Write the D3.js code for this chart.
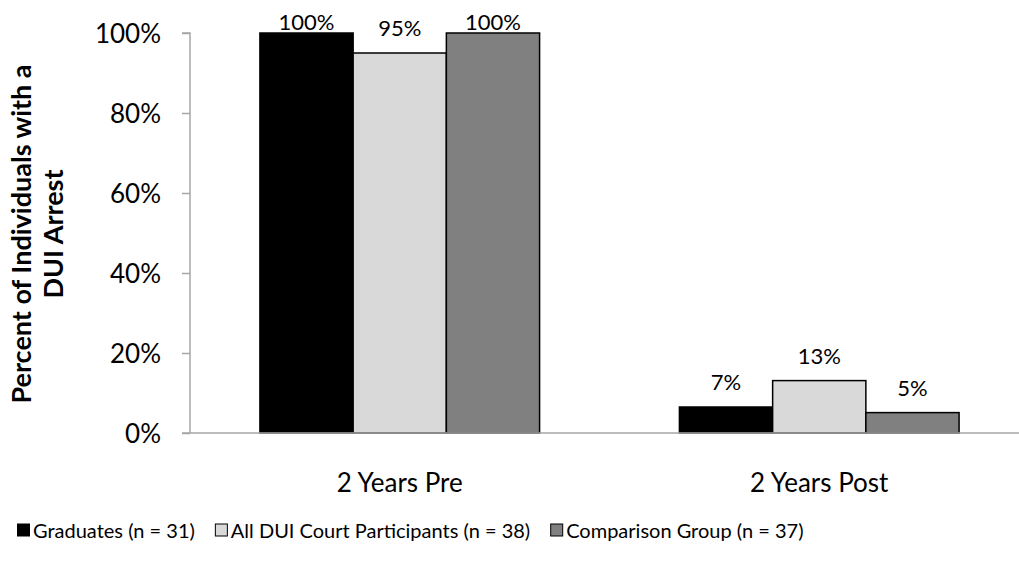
<!DOCTYPE html>
<html><head><meta charset="utf-8">
<script src="https://cdn.jsdelivr.net/npm/d3@7"></script>
<style>
body{margin:0;background:#fff;}
text{font-family:Lato,"Open Sans",sans-serif;fill:#000;}
</style></head>
<body>
<svg id="c" width="1019" height="565"></svg>
<script>
const categories = ["2 Years Pre", "2 Years Post"];
const seriesNames = ["Graduates (n = 31)", "All DUI Court Participants (n = 38)", "Comparison Group (n = 37)"];
const graduates = [100, 6.5];
const allParticipants = [95, 13.1];
const comparison = [100, 5.1];
const yTicks = [0, 20, 40, 60, 80, 100];
const colors = ["#000000", "#d9d9d9", "#808080"];

(function () {
const series = [graduates, allParticipants, comparison];
const svg = d3.select("#c");
const pLeft = 190, pRight = 1029, pTop = 33, pBottom = 433;

const x0 = d3.scaleBand().domain(categories).range([pLeft, pRight]).paddingInner(0).paddingOuter(0);
const x1 = d3.scaleBand().domain(d3.range(3)).range([0, x0.bandwidth()]).paddingOuter(0.75).paddingInner(0);
const y = d3.scaleLinear().domain([0, 100]).range([pBottom, pTop]);

// y axis
const ya = svg.append("g").attr("transform", `translate(${pLeft},0)`)
  .call(d3.axisLeft(y).tickValues(yTicks).tickFormat(d => d + "%").tickSize(8).tickPadding(21));
ya.select(".domain").attr("stroke", "#a6a6a6").attr("stroke-width", 1.5).attr("d", `M-8,${pTop}H0V${pBottom}`);
ya.selectAll(".tick line").attr("stroke", "#a6a6a6").attr("stroke-width", 1.5);
ya.selectAll(".tick text").style("font-size", "26px").attr("fill", "#000").attr("dy", "0.36em");

// bars
categories.forEach((c, ci) => {
  series.forEach((s, si) => {
    const v = s[ci];
    const bx = x0(c) + x1(si);
    svg.append("rect")
      .attr("x", bx).attr("y", y(v))
      .attr("width", x1.bandwidth()).attr("height", y(0) - y(v))
      .attr("fill", colors[si]).attr("stroke", "#000").attr("stroke-width", 1.5);
    svg.append("text")
      .attr("x", bx + x1.bandwidth() / 2)
      .attr("y", Math.max(y(v) - 17, 30))
      .attr("text-anchor", "middle").style("font-size", "22px")
      .text(Math.round(v) + "%");
  });
});

// x axis line
svg.append("line").attr("x1", pLeft - 8).attr("x2", pRight).attr("y1", pBottom).attr("y2", pBottom)
  .attr("stroke", "#a6a6a6").attr("stroke-width", 1.5);
categories.forEach(c => {
  svg.append("text").attr("x", x0(c) + x0.bandwidth() / 2).attr("y", 492)
    .attr("text-anchor", "middle").style("font-size", "26px").text(c);
});

// y title
const yt = svg.append("text").attr("transform", "translate(0,234) rotate(-90)")
  .attr("text-anchor", "middle").style("font-size", "27px").style("font-weight", "bold");
yt.append("tspan").attr("x", 0).attr("y", 31).text("Percent of Individuals with a");
yt.append("tspan").attr("x", 0).attr("y", 63).text("DUI Arrest");

// legend
const lg = svg.append("g").attr("transform", "translate(17,0)");
let lx = 0;
seriesNames.forEach((n, i) => {
  const g = lg.append("g").attr("transform", `translate(${lx},0)`);
  g.append("rect").attr("x", 0.5).attr("y", 524).attr("width", 12).attr("height", 12)
    .attr("fill", colors[i]).attr("stroke", "#000").attr("stroke-width", 1);
  const t = g.append("text").attr("x", 16).attr("y", 538).style("font-size", "20px").text(n);
  lx += 16 + t.node().getComputedTextLength() + 20;
});
})();
</script>
</body></html>
